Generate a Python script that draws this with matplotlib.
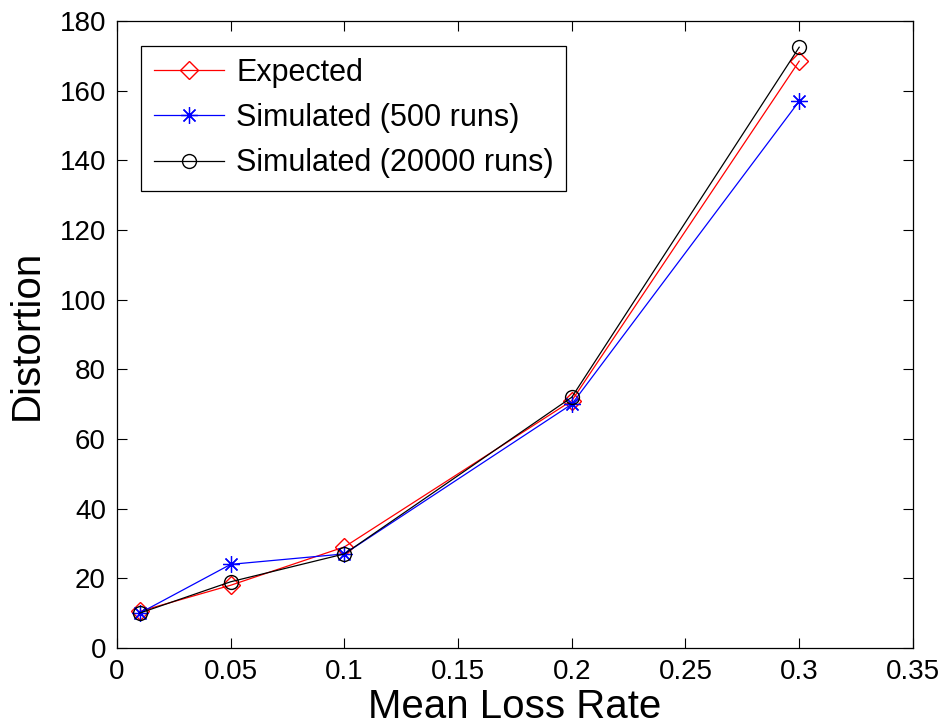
import matplotlib
matplotlib.use("Agg")
import matplotlib.pyplot as plt

# mean loss rate vs distortion
loss_rate = [0.01, 0.05, 0.1, 0.2, 0.3]
expected = [10.5, 18, 29, 71, 168.5]
sim_500 = [10, 24, 27, 70, 157]
sim_20000 = [10, 19, 27, 72, 172.5]

plt.rcParams['font.family'] = ['Liberation Sans', 'DejaVu Sans']

fig = plt.figure(figsize=(9.46, 7.28), dpi=100)
ax = fig.add_axes([0.1237, 0.110, 0.8413, 0.861])

ax.plot(loss_rate, expected, color='red', lw=0.9, marker='D', ms=9,
        mfc='none', mec='red', mew=1.0, label='Expected')
ax.plot(loss_rate, sim_500, color='blue', lw=0.9, marker=(8, 2, 0), ms=12,
        mfc='none', mec='blue', mew=0.9, label='Simulated (500 runs)')
ax.plot(loss_rate, sim_20000, color='black', lw=0.9, marker='o', ms=10,
        mfc='none', mec='black', mew=1.0, label='Simulated (20000 runs)')

ax.set_xlim(0, 0.35)
ax.set_ylim(0, 180)
ax.set_xticks([0, 0.05, 0.1, 0.15, 0.2, 0.25, 0.3, 0.35])
ax.set_xticklabels(['0', '0.05', '0.1', '0.15', '0.2', '0.25', '0.3', '0.35'])
ax.set_yticks(range(0, 181, 20))
ax.tick_params(direction='in', top=True, right=True, length=7, labelsize=20, pad=8)
for s in ax.spines.values():
    s.set_linewidth(0.9)

ax.set_xlabel('Mean Loss Rate', fontsize=29, labelpad=2)
ax.set_ylabel('Distortion', fontsize=29, labelpad=10)

leg = ax.legend(loc='upper left', fontsize=22, fancybox=False, framealpha=1,
                edgecolor='black', borderaxespad=0.8, handlelength=2.3,
                handletextpad=0.4, labelspacing=0.5, borderpad=0.4)
leg.get_frame().set_linewidth(0.9)

fig.savefig('out.png', dpi=100)
